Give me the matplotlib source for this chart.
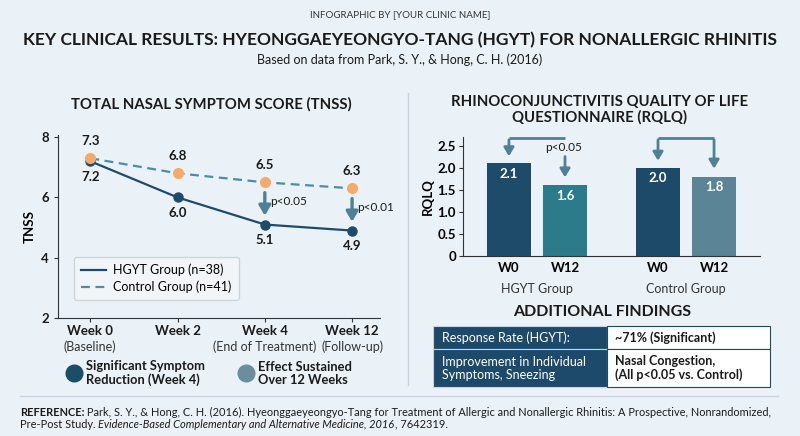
import matplotlib
matplotlib.use("Agg")
from matplotlib import pyplot as plt
from matplotlib.patches import Rectangle
from matplotlib.lines import Line2D
import numpy as np

# TNSS data
weeks = ["Week 0", "Week 2", "Week 4", "Week 12"]
week_notes = ["(Baseline)", "", "(End of Treatment)", "(Follow-up)"]
hgyt_tnss = [7.2, 6.0, 5.1, 4.9]
control_tnss = [7.3, 6.8, 6.5, 6.3]
tnss_pvals = {2: "p<0.05", 3: "p<0.01"}

# RQLQ data
rqlq_groups = ["HGYT Group", "Control Group"]
rqlq_ticks = ["W0", "W12", "W0", "W12"]
rqlq_values = [2.1, 1.6, 2.0, 1.8]

# additional findings table
findings = [
    ("Response Rate (HGYT):", "~71% (Significant)"),
    ("Improvement in Individual\nSymptoms, Sneezing",
     "Nasal Congestion,\n(All p<0.05 vs. Control)"),
]

NAVY = "#1f4b6b"
TEAL = "#2b7b8a"
GREYBLUE = "#5b8497"
ORANGE = "#f5aa6c"
DASH = "#4a8da6"
ARROW = "#4f8096"
TXT = "#1a1a1a"

plt.rcParams["font.family"] = ["Lato", "DejaVu Sans"]

W, H = 800, 436
fig = plt.figure(figsize=(8, 4.36), dpi=100)
fig.patch.set_facecolor("#ebf2f7")


def fx(x):
    return x / W


def fy(y):
    return 1 - y / H


def ax_rect(l, t, r, b):
    return [fx(l), fy(b), fx(r) - fx(l), fy(t) - fy(b)]


# header
fig.text(fx(400), fy(15), "INFOGRAPHIC BY [YOUR CLINIC NAME]", ha="center",
         va="center", fontsize=7, color="#333333")
fig.text(fx(400), fy(40),
         "KEY CLINICAL RESULTS: HYEONGGAEYEONGYO-TANG (HGYT) FOR NONALLERGIC RHINITIS",
         ha="center", va="center", fontsize=12.5, fontweight="bold", color=TXT)
fig.text(fx(400), fy(60), "Based on data from Park, S. Y., & Hong, C. H. (2016)",
         ha="center", va="center", fontsize=9, color=TXT)

# dividers
fig.add_artist(Line2D([fx(408), fx(408)], [fy(93), fy(385)], color="#c9d3db", lw=1))
fig.add_artist(Line2D([fx(20), fx(778)], [fy(396), fy(396)], color="#c9d3db", lw=1))

# ---------------- TNSS line chart ----------------
fig.text(fx(211), fy(104), "TOTAL NASAL SYMPTOM SCORE (TNSS)", ha="center",
         va="center", fontsize=10.7, fontweight="bold", color=TXT)

ax1 = fig.add_axes(ax_rect(58, 135, 380, 318))
ax1.set_facecolor("none")
x = np.arange(len(weeks))
ax1.plot(x, hgyt_tnss, color=NAVY, lw=1.6, marker="o", ms=6.5,
         mfc=NAVY, mec=NAVY, zorder=3)
ax1.plot(x, control_tnss, color=DASH, lw=1.6, ls=(0, (4, 2.5)), zorder=2)
ax1.plot(x, control_tnss, ls="none", marker="o", ms=7, mfc=ORANGE,
         mec=ORANGE, zorder=4)
ax1.set_xlim(-0.37, 3.32)
ax1.set_ylim(2, 8.07)
ax1.set_yticks([2, 4, 6, 8])
ax1.set_yticklabels(["2", "4", "6", "8"], fontweight="bold", fontsize=9.5)
ax1.set_xticks(x)
ax1.set_xticklabels([])
ax1.tick_params(axis="both", length=3, color="#333333", labelcolor=TXT)
for s in ["top", "right"]:
    ax1.spines[s].set_visible(False)
for s in ["left", "bottom"]:
    ax1.spines[s].set_color("#333333")
ax1.set_ylabel("TNSS", fontweight="bold", fontsize=9.5, labelpad=4)

for i in x:
    ax1.annotate(f"{control_tnss[i]:.1f}", (i, control_tnss[i]), xytext=(0, 8),
                 textcoords="offset points", ha="center", va="bottom",
                 fontsize=9.5, fontweight="bold", color=TXT)
    ax1.annotate(f"{hgyt_tnss[i]:.1f}", (i, hgyt_tnss[i]), xytext=(0, -7),
                 textcoords="offset points", ha="center", va="top",
                 fontsize=9.5, fontweight="bold", color=TXT)
    ax1.annotate(weeks[i], (i, 0), xycoords=("data", "axes fraction"),
                 xytext=(0, -5), textcoords="offset points", ha="center",
                 va="top", fontsize=9.5, fontweight="bold", color=TXT)
    if week_notes[i]:
        ax1.annotate(week_notes[i], (i, 0), xycoords=("data", "axes fraction"),
                     xytext=(0, -16.5), textcoords="offset points", ha="center",
                     va="top", fontsize=9, color="#333333")

for i, p in tnss_pvals.items():
    ax1.annotate("", xy=(i, hgyt_tnss[i] + 0.2), xytext=(i, control_tnss[i] - 0.25),
                 arrowprops=dict(arrowstyle="-|>,head_width=0.35,head_length=0.6",
                                 color=ARROW, lw=2.4))
    ax1.text(i + 0.06, (hgyt_tnss[i] + control_tnss[i]) / 2 + 0.05, p,
             fontsize=8.5, color=TXT, va="center", ha="left")

handles = [Line2D([], [], color=NAVY, lw=1.6),
           Line2D([], [], color=DASH, lw=1.6, ls=(0, (4, 2.5)))]
leg = ax1.legend(handles, ["HGYT Group (n=38)", "Control Group (n=41)"],
                 loc="lower left", bbox_to_anchor=(0.03, 0.065), fontsize=9,
                 frameon=True, fancybox=True, handlelength=2.0,
                 borderpad=0.55, labelspacing=0.35, handletextpad=0.6)
leg.get_frame().set_facecolor("#f3f6f9")
leg.get_frame().set_edgecolor("#c8d2da")
leg.get_frame().set_alpha(0.9)

# key notes under chart
fig.add_artist(Line2D([fx(74)], [fy(373)], marker="o", ms=12, color="#1c4d68",
                      ls="none"))
fig.text(fx(86), fy(373), "Significant Symptom\nReduction (Week 4)", ha="left",
         va="center", fontsize=9.3, fontweight="bold", color=TXT, linespacing=1.1)
fig.add_artist(Line2D([fx(246)], [fy(373)], marker="o", ms=12, color="#6a8f9c",
                      ls="none"))
fig.text(fx(258), fy(373), "Effect Sustained\nOver 12 Weeks", ha="left",
         va="center", fontsize=9.3, fontweight="bold", color=TXT, linespacing=1.1)

# ---------------- RQLQ bar chart ----------------
fig.text(fx(600), fy(110), "RHINOCONJUNCTIVITIS QUALITY OF LIFE\nQUESTIONNAIRE (RQLQ)",
         ha="center", va="center", fontsize=10.7, fontweight="bold", color=TXT,
         linespacing=1.05)

ax2 = fig.add_axes(ax_rect(463, 137, 760, 256))
ax2.set_facecolor("none")
bx = np.array([0, 1, 2.66, 3.66])
bar_colors = [NAVY, TEAL, "#1e4a69", GREYBLUE]
ax2.bar(bx, rqlq_values, width=0.79, color=bar_colors, zorder=2)
ax2.set_xlim(-0.82, 4.48)
ax2.set_ylim(0, 2.7)
ax2.set_yticks([0, 0.5, 1.0, 1.5, 2.0, 2.5])
ax2.set_yticklabels(["0", "0.5", "1.0", "1.5", "2.0", "2.5"], fontweight="bold",
                    fontsize=9.5)
ax2.set_xticks(bx)
ax2.set_xticklabels(rqlq_ticks, fontweight="bold", fontsize=9.5)
ax2.tick_params(axis="x", length=0, pad=4)
ax2.tick_params(axis="y", length=3, color="#333333", pad=2)
for s in ["top", "right"]:
    ax2.spines[s].set_visible(False)
for s in ["left", "bottom"]:
    ax2.spines[s].set_color("#333333")
ax2.set_ylabel("RQLQ", fontweight="bold", fontsize=9.5, labelpad=3)

for xi, v in zip(bx, rqlq_values):
    ax2.text(xi, v - 0.1, f"{v:.1f}", ha="center", va="top", color="white",
             fontsize=9.5, fontweight="bold", zorder=3)

for g, name in enumerate(rqlq_groups):
    ax2.annotate(name, ((bx[2 * g] + bx[2 * g + 1]) / 2, 0),
                 xycoords=("data", "axes fraction"), xytext=(0, -19.5),
                 textcoords="offset points", ha="center", va="top",
                 fontsize=9, color="#333333")

# bracket arrows between W0 and W12
aprops = dict(arrowstyle="-|>,head_width=0.3,head_length=0.5", color=ARROW, lw=2.0)
for g in range(2):
    a, b = bx[2 * g], bx[2 * g + 1]
    va, vb = rqlq_values[2 * g], rqlq_values[2 * g + 1]
    top = 2.68
    ax2.plot([a, b], [top, top], color=ARROW, lw=2.0, solid_capstyle="butt",
             clip_on=False)
    ax2.annotate("", xy=(a, va + 0.1), xytext=(a, top + 0.02), arrowprops=aprops,
                 annotation_clip=False)
    if g == 0:
        ax2.text(b - 0.02, 2.46, "p<0.05", ha="center", va="center", fontsize=8.5,
                 color=TXT)
        ax2.annotate("", xy=(b, vb + 0.12), xytext=(b, 2.32), arrowprops=aprops)
    else:
        ax2.annotate("", xy=(b, vb + 0.12), xytext=(b, top + 0.02),
                     arrowprops=aprops, annotation_clip=False)

# additional findings table
fig.text(fx(602), fy(312), "ADDITIONAL FINDINGS", ha="center", va="center",
         fontsize=11.5, fontweight="bold", color=TXT)
tl, tm, tr = 433, 607, 770
rows_y = [326, 349, 387]
for r, (left_txt, right_txt) in enumerate(findings):
    y0, y1 = rows_y[r], rows_y[r + 1]
    fig.add_artist(Rectangle((fx(tl), fy(y1)), fx(tm) - fx(tl), fy(y0) - fy(y1),
                             facecolor="#1d4a6b", edgecolor="#c9d3db", lw=0.8))
    fig.add_artist(Rectangle((fx(tm), fy(y1)), fx(tr) - fx(tm), fy(y0) - fy(y1),
                             facecolor="white", edgecolor="#1d4a6b", lw=0.8))
    yc = (y0 + y1) / 2
    fig.text(fx(tl + 9), fy(yc), left_txt, ha="left", va="center", fontsize=9,
             color="white", linespacing=1.1)
    fig.text(fx(tm + 8), fy(yc), right_txt, ha="left", va="center", fontsize=9,
             fontweight="bold", color=TXT, linespacing=1.1)

# reference, mixed styles placed piece by piece
renderer = fig.canvas.get_renderer()


def run_text(pieces, x0, y0):
    xp = x0
    for txt, kw in pieces:
        t = fig.text(fx(xp), fy(y0), txt, ha="left", va="center", fontsize=7.95,
                     color=TXT, **kw)
        bb = t.get_window_extent(renderer=renderer)
        xp += bb.width


run_text([("REFERENCE:", dict(fontweight="bold")),
          (" Park, S. Y., & Hong, C. H. (2016). Hyeonggaeyeongyo-Tang for Treatment "
           "of Allergic and Nonallergic Rhinitis: A Prospective, Nonrandomized,", {})],
         20, 412)
run_text([("Pre-Post Study. ", {}),
          ("Evidence-Based Complementary and Alternative Medicine, 2016", dict(style="italic")),
          (", 7642319.", {})], 20, 424)

fig.savefig("out.png", dpi=100, facecolor=fig.get_facecolor())
